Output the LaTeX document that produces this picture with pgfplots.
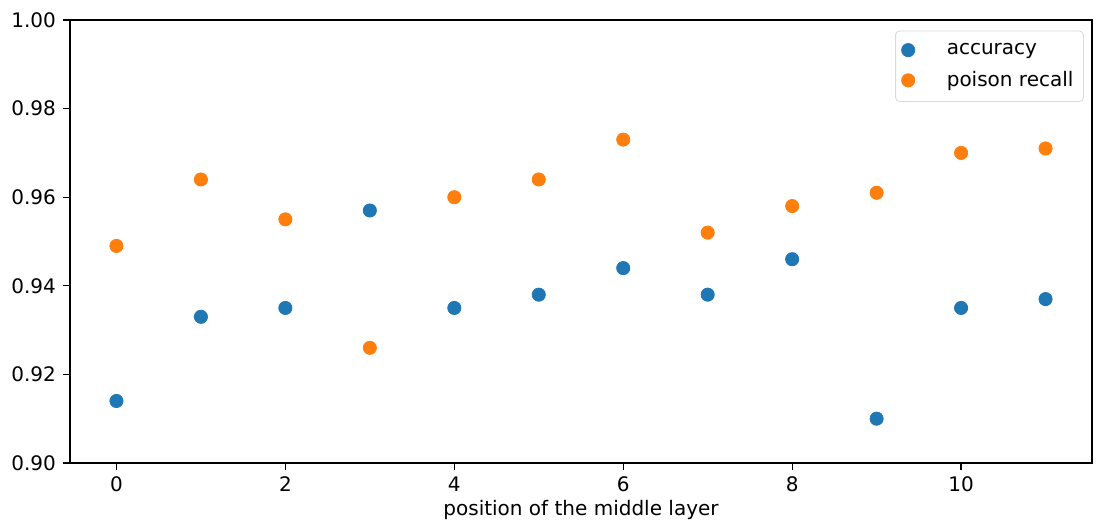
\documentclass[border=0pt]{standalone}
\usepackage{fontspec}
\setmainfont{DejaVu Sans}
\usepackage{pgfplots}
\pgfplotsset{compat=1.18}
\definecolor{tabblue}{HTML}{1F77B4}
\definecolor{taborange}{HTML}{FF7F0E}
\begin{document}
\begin{tikzpicture}
\begin{axis}[
  scale only axis,
  width=511pt, height=221.5pt,
  xmin=-0.55, xmax=11.55,
  ymin=0.90, ymax=1.00,
  xtick={0,2,4,6,8,10},
  ytick={0.90,0.92,0.94,0.96,0.98,1.00},
  yticklabel style={/pgf/number format/.cd, fixed, fixed zerofill, precision=2},
  /pgf/number format/assume math mode=true,
  tick align=outside,
  tick pos=left,
  major tick length=3.5pt,
  every tick/.style={black, line width=0.6pt},
  axis line style={line width=0.6pt},
  ticklabel style={font=\fontsize{10}{12}\selectfont},
  xlabel={position of the middle layer},
  xlabel style={font=\fontsize{10}{12}\selectfont, yshift=3pt},
  legend style={font=\fontsize{10}{12}\selectfont, draw=black!15, rounded corners=2pt, at={(0.992,0.976)}, anchor=north east, inner xsep=3pt, inner ysep=4pt, row sep=3pt},
  legend cell align=left,
  legend image code/.code={\draw[#1] plot coordinates {(0.55cm,0cm)};},
]
\addplot[only marks, mark=*, mark size=3.3pt, draw=tabblue, fill=tabblue, mark options={draw=tabblue, fill=tabblue}] coordinates {
(0,0.914) (1,0.933) (2,0.935) (3,0.957) (4,0.935) (5,0.938)
(6,0.944) (7,0.938) (8,0.946) (9,0.910) (10,0.935) (11,0.937)
};
\addlegendentry{\hspace{14pt}accuracy}
\addplot[only marks, mark=*, mark size=3.3pt, draw=taborange, fill=taborange, mark options={draw=taborange, fill=taborange}] coordinates {
(0,0.949) (1,0.964) (2,0.955) (3,0.926) (4,0.960) (5,0.964)
(6,0.973) (7,0.952) (8,0.958) (9,0.961) (10,0.970) (11,0.971)
};
\addlegendentry{\hspace{14pt}poison recall}
\end{axis}
\path ([xshift=-35pt,yshift=-34pt]current axis.south west) rectangle ([xshift=2.5pt,yshift=10pt]current axis.north east);
\end{tikzpicture}
\end{document}
